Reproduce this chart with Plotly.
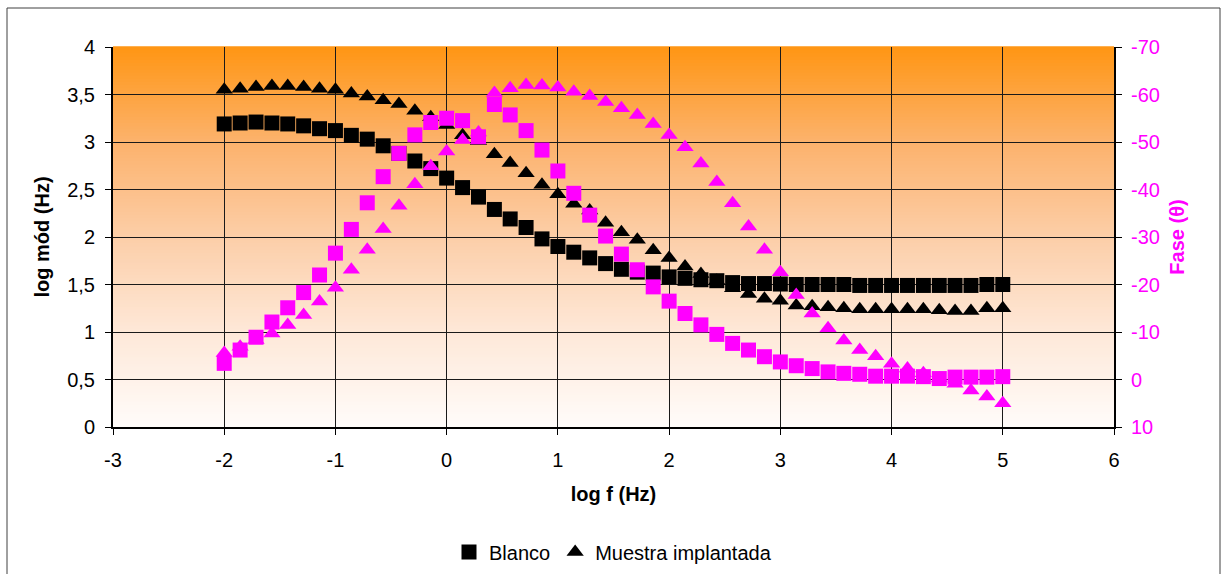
import plotly.graph_objects as go

# ---------------- data ----------------
log_f = [-2, -1.857, -1.714, -1.571, -1.429, -1.286, -1.143,
         -1, -0.857, -0.714, -0.571, -0.429, -0.286, -0.143,
         0, 0.143, 0.286, 0.429, 0.571, 0.714, 0.857,
         1, 1.143, 1.286, 1.429, 1.571, 1.714, 1.857,
         2, 2.143, 2.286, 2.429, 2.571, 2.714, 2.857,
         3, 3.143, 3.286, 3.429, 3.571, 3.714, 3.857,
         4, 4.143, 4.286, 4.429, 4.571, 4.714, 4.857,
         5]

blanco_mod = [3.19, 3.20, 3.21, 3.20, 3.19, 3.17, 3.14,
              3.12, 3.07, 3.03, 2.96, 2.88, 2.80, 2.72,
              2.62, 2.52, 2.42, 2.29, 2.19, 2.10, 1.98,
              1.90, 1.84, 1.78, 1.72, 1.66, 1.63, 1.62,
              1.58, 1.565, 1.55, 1.54, 1.52, 1.51, 1.51,
              1.505, 1.50, 1.50, 1.50, 1.50, 1.49, 1.49,
              1.49, 1.49, 1.49, 1.49, 1.49, 1.49, 1.50,
              1.50]

muestra_mod = [3.55, 3.56, 3.58, 3.59, 3.59, 3.58, 3.56,
               3.55, 3.51, 3.48, 3.44, 3.40, 3.33, 3.26,
               3.18, 3.07, 3.01, 2.87, 2.78, 2.67, 2.55,
               2.45, 2.35, 2.28, 2.15, 2.05, 1.97, 1.86,
               1.78, 1.69, 1.61, 1.54, 1.46, 1.40, 1.35,
               1.33, 1.28, 1.27, 1.26, 1.25, 1.24, 1.24,
               1.24, 1.24, 1.24, 1.23, 1.22, 1.22, 1.25,
               1.25]

blanco_fase = [-3.4, -6.2, -8.9, -12.1, -15.1, -18.3, -22.0,
               -26.6, -31.6, -37.2, -42.7, -47.6, -51.5, -54.1,
               -55.0, -54.5, -51.1, -57.9, -55.7, -52.4, -48.3,
               -43.9, -39.2, -34.6, -30.2, -26.4, -23.1, -19.5,
               -16.5, -13.9, -11.5, -9.5, -7.6, -6.2, -4.8,
               -3.7, -2.9, -2.3, -1.6, -1.3, -1.1, -0.7,
               -0.7, -0.7, -0.6, -0.2, -0.5, -0.5, -0.5,
               -0.6]

muestra_fase = [-5.6, -6.9, -8.3, -9.7, -11.5, -13.6, -16.4,
                -19.3, -23.1, -27.3, -31.7, -36.6, -41.1, -44.9,
                -48.0, -50.4, -52.0, -60.3, -61.3, -62.0, -61.9,
                -61.5, -60.6, -59.7, -58.4, -57.1, -55.7, -53.8,
                -51.5, -48.9, -45.5, -41.6, -37.1, -32.2, -27.3,
                -22.6, -17.8, -13.9, -10.8, -8.2, -6.2, -4.9,
                -3.3, -2.3, -1.3, -0.2, 0.9, 2.3, 3.6,
                5.0]

x_ticks = [-3, -2, -1, 0, 1, 2, 3, 4, 5, 6]
x_ticktext = ["-3", "-2", "-1", "0", "1", "2", "3", "4", "5", "6"]
y_ticks = [0, 0.5, 1, 1.5, 2, 2.5, 3, 3.5, 4]
y_ticktext = ["0", "0,5", "1", "1,5", "2", "2,5", "3", "3,5", "4"]
y2_ticks = [10, 0, -10, -20, -30, -40, -50, -60, -70]
y2_ticktext = ["10", "0", "-10", "-20", "-30", "-40", "-50", "-60", "-70"]

FONT = "Liberation Sans, Arial, sans-serif"
FS = 20
MAGENTA = "#FF00FF"

fig = go.Figure()

fig.add_trace(go.Scatter(x=log_f, y=blanco_mod, mode="markers", name="Blanco",
                         marker=dict(symbol="square", size=15, color="black"),
                         yaxis="y"))
fig.add_trace(go.Scatter(x=log_f, y=muestra_mod, mode="markers", name="Muestra implantada",
                         marker=dict(symbol="triangle-up", size=15, color="black"),
                         yaxis="y"))
fig.add_trace(go.Scatter(x=log_f, y=blanco_fase, mode="markers", name="Blanco fase",
                         marker=dict(symbol="square", size=15, color=MAGENTA),
                         yaxis="y2", showlegend=False))
fig.add_trace(go.Scatter(x=log_f, y=muestra_fase, mode="markers", name="Muestra fase",
                         marker=dict(symbol="triangle-up", size=15, color=MAGENTA),
                         yaxis="y2", showlegend=False))

# gradient plot background (orange top -> white bottom)
stops = [(0.0, (255, 252, 250)), (0.25, (254, 232, 216)), (0.5, (252, 206, 168)),
         (0.75, (252, 178, 108)), (1.0, (255, 150, 20))]


def col_at(t):
    for (t0, c0), (t1, c1) in zip(stops[:-1], stops[1:]):
        if t0 <= t <= t1:
            f = (t - t0) / (t1 - t0)
            return "rgb(%d,%d,%d)" % tuple(round(a + (b - a) * f) for a, b in zip(c0, c1))
    return "rgb(%d,%d,%d)" % stops[-1][1]


N = 120
shapes = []
for i in range(N):
    y0 = i / N
    y1 = (i + 1) / N
    shapes.append(dict(type="rect", xref="x domain", yref="y domain",
                       x0=0, x1=1, y0=y0, y1=y1 + 0.002,
                       fillcolor=col_at((y0 + y1) / 2), line=dict(width=0),
                       layer="below"))

# outer chart border
shapes.append(dict(type="rect", xref="paper", yref="paper",
                   x0=(7 - 113) / 1001, x1=(1220 - 113) / 1001,
                   y0=(427 - 590) / 380, y1=(427 - 8) / 380,
                   line=dict(color="#404040", width=1), fillcolor="rgba(0,0,0,0)",
                   layer="above"))

fig.update_layout(
    width=1225, height=574,
    margin=dict(l=113, r=111, t=47, b=147),
    paper_bgcolor="white", plot_bgcolor="white",
    font=dict(family=FONT, size=FS, color="black"),
    showlegend=True,
    legend=dict(orientation="h", xref="paper", x=0.4995, xanchor="center",
                yref="container", y=(574 - 552) / 574, yanchor="middle",
                font=dict(family=FONT, size=FS, color="black"),
                bgcolor="rgba(0,0,0,0)", itemwidth=30, tracegroupgap=0),
    shapes=shapes,
    xaxis=dict(range=[-3, 6], tickvals=x_ticks, ticktext=x_ticktext,
               showgrid=True, gridcolor="#1a1a1a", gridwidth=1,
               ticks="outside", ticklen=6, tickcolor="black", tickwidth=1,
               ticklabelstandoff=8,
               showline=True, linecolor="black", linewidth=2,
               zeroline=False, automargin=False,
               tickfont=dict(family=FONT, size=FS, color="black"),
               title=dict(text="<b>log f (Hz)</b>", standoff=17,
                          font=dict(family=FONT, size=FS, color="black"))),
    yaxis=dict(range=[0, 4], tickvals=y_ticks, ticktext=y_ticktext,
               showgrid=True, gridcolor="#1a1a1a", gridwidth=1,
               ticks="outside", ticklen=6, tickcolor="black", tickwidth=1,
               ticklabelstandoff=6,
               showline=True, linecolor="black", linewidth=2,
               zeroline=False, automargin=False,
               tickfont=dict(family=FONT, size=FS, color="black"),
               title=dict(text="<b>log mód (Hz)</b>", standoff=12,
                          font=dict(family=FONT, size=FS, color="black"))),
    yaxis2=dict(range=[10, -70], overlaying="y", side="right",
                tickvals=y2_ticks, ticktext=y2_ticktext,
                showgrid=False,
                ticks="outside", ticklen=6, tickcolor="black", tickwidth=1,
                ticklabelstandoff=5,
                showline=True, linecolor="black", linewidth=2,
                zeroline=False, automargin=False,
                tickfont=dict(family=FONT, size=FS, color=MAGENTA),
                title=dict(text="<b>Fase (θ)</b>", standoff=11,
                           font=dict(family=FONT, size=FS, color=MAGENTA))),
)

fig.write_html("out.html", config={"displayModeBar": False},
               post_script="document.body.style.margin='0';document.body.style.padding='0';document.body.style.overflow='hidden';")
